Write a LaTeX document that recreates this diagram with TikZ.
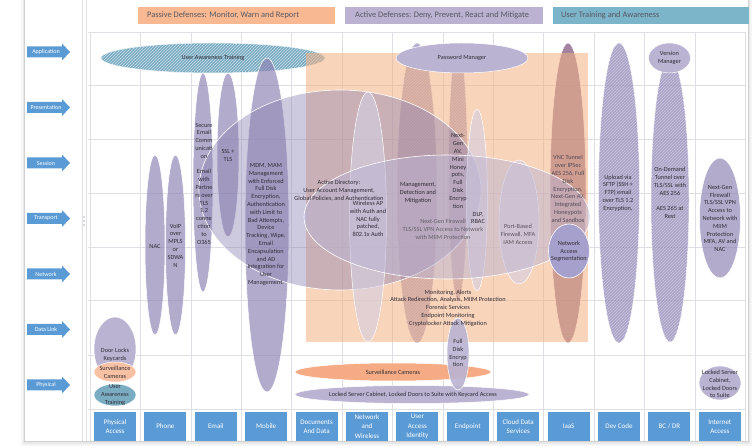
\documentclass[tikz,border=0pt]{standalone}
\usepackage{fontspec}
\setmainfont{Carlito}
\usetikzlibrary{patterns}
\definecolor{lavD}{RGB}{138,127,177}
\definecolor{lavL}{RGB}{186,179,210}
\definecolor{lavP}{RGB}{212,206,228}
\definecolor{lavM}{RGB}{142,100,138}
\definecolor{lavS}{RGB}{166,160,204}
\definecolor{peach}{RGB}{244,177,131}
\definecolor{orng}{RGB}{245,172,132}
\definecolor{tealC}{RGB}{122,172,194}
\definecolor{blueC}{RGB}{91,155,213}
\definecolor{gridC}{RGB}{222,222,228}
\definecolor{txt}{RGB}{50,45,56}
\definecolor{hdrtxt}{RGB}{88,88,98}
\definecolor{hdrP}{RGB}{248,184,146}
\definecolor{hdrA}{RGB}{186,178,208}
\definecolor{hdrT}{RGB}{124,180,202}

\tikzset{
  tall/.style={fill=lavD, fill opacity=0.65, draw=white, line width=0.5pt},
  hatched/.style={fill=lavD, fill opacity=0.7, draw=white, line width=0.5pt,
    postaction={pattern=north east lines, pattern color=white!55!lavD}},
  deep/.style={fill=lavM, fill opacity=0.8, draw=white, line width=0.5pt},
  wide/.style={fill=lavD, fill opacity=0.42, draw=white, line width=0.6pt},
  pale/.style={fill=lavP, fill opacity=0.6, draw=white, line width=0.5pt},
  solidlav/.style={fill=lavL, draw=white, line width=0.5pt},
  lbl/.style={font=\fontsize{6.3}{7.8}\selectfont, text=txt, align=center, inner sep=0pt},
  hdrbox/.style={minimum height=17pt, inner sep=0pt, anchor=north west},
  hdr/.style={font=\fontsize{8.4}{9.6}\selectfont, text=hdrtxt, anchor=west, inner sep=0pt},
  layertxt/.style={font=\fontsize{6}{6.5}\selectfont, text=white, inner sep=0pt},
  colbox/.style={fill=blueC, minimum width=42pt, minimum height=29pt, inner sep=0pt,
    align=center, text=white, font=\fontsize{7}{9.3}\selectfont},
}

\begin{document}
\begin{tikzpicture}[x=1pt, y=-1pt]
\useasboundingbox (0,0) rectangle (756,446);
% sheet and its shadow
\fill[white] (0,0) rectangle (756,446);
\fill[black!4] (21,0) rectangle (752,446);
\fill[black!9] (23,0) rectangle (750,444);
\fill[black!18] (24,0) rectangle (749,442.5);
\fill[white] (25,0) rectangle (748,441);

% label column rules
\draw[gridC, line width=0.6pt] (82,0) -- (82,441);
\draw[gridC, line width=0.6pt] (86,0) -- (86,441);
\foreach \d in {217,221,225} \fill[black!60] (84,\d) circle (0.6pt);

% grid
\foreach \r in {32,85,139,193,247,300,355,409}
  \draw[gridC, line width=0.6pt] (88,\r) -- (745,\r);
\foreach \c in {0,...,13}
  \draw[gridC, line width=0.6pt] ({90+50.4*\c},32) -- ({90+50.4*\c},441);

% headers
\node[hdrbox, fill=hdrP, minimum width=197pt] (hp) at (138,7) {};
\node[hdr] (hpt) at (147,15.5) {Passive Defenses: Monitor, Warn and Report};
\node[hdrbox, fill=hdrA, minimum width=198pt] (ha) at (345,7) {};
\node[hdr] (hat) at (355,15.5) {Active Defenses: Deny, Prevent, React and Mitigate};
\node[hdrbox, fill=hdrT, minimum width=196pt] (ht) at (553,7) {};
\node[hdr] (htt) at (561,15.5) {User Training and Awareness};

% awareness band
\path[fill=tealC, draw=white, line width=0.5pt, postaction={pattern=north east lines, pattern color=white!60!tealC}]
  (213,58) ellipse [x radius=112pt, y radius=15pt];

% tall controls outside the shaded block
\path[tall] (203,182.5) ellipse [x radius=10pt, y radius=109.5pt];
\path[tall] (228,155) ellipse [x radius=11pt, y radius=82pt];
\path[tall] (267,225) ellipse [x radius=22pt, y radius=167pt];
\path[tall] (155,245) ellipse [x radius=10pt, y radius=90pt];
\path[tall] (175.5,245) ellipse [x radius=10pt, y radius=90pt];
\path[hatched] (619,193) ellipse [x radius=20.5pt, y radius=150pt];
\path[hatched] (670,200) ellipse [x radius=19pt, y radius=142pt];
\path[tall] (720,218) ellipse [x radius=20.5pt, y radius=60pt];

% controls under the shaded block
\path[hatched] (417,193) ellipse [x radius=20pt, y radius=150pt];
\path[hatched] (458,172) ellipse [x radius=9.5pt, y radius=128pt];
\path[deep] (568,193) ellipse [x radius=18pt, y radius=150pt];

% shaded block
\fill[peach, opacity=0.55] (306,53) rectangle (588,342);

% broad controls
\path[wide] (340,190) ellipse [x radius=141pt, y radius=100pt];
\path[pale] (368,217) ellipse [x radius=18.5pt, y radius=125pt];
\path[pale] (477,200) ellipse [x radius=10.5pt, y radius=91pt];
\path[pale] (519,222) ellipse [x radius=20pt, y radius=62pt];
\path[fill=lavL, fill opacity=0.5, draw=white, line width=0.6pt] (447,217) ellipse [x radius=143pt, y radius=62pt];

% top and side bubbles
\path[solidlav] (462,58) ellipse [x radius=66pt, y radius=15pt];
\path[solidlav] (669.5,58) ellipse [x radius=21pt, y radius=15pt];
\path[fill=lavS, draw=white, line width=0.6pt] (569,251) ellipse [x radius=20.5pt, y radius=27pt];

% physical layer
\path[solidlav] (115,349) ellipse [x radius=21pt, y radius=32pt];
\path[fill=orng!75!white, draw=white, line width=0.5pt] (115,372) ellipse [x radius=21pt, y radius=10pt];
\path[fill=tealC, draw=white, line width=0.5pt] (115,395) ellipse [x radius=21pt, y radius=11pt];
\path[fill=orng, draw=white, line width=0.5pt] (393,372) ellipse [x radius=98pt, y radius=9pt];
\path[solidlav] (412,394.5) ellipse [x radius=117pt, y radius=9pt];
\path[fill=lavL, fill opacity=0.9, draw=white, line width=0.5pt] (458,354) ellipse [x radius=11pt, y radius=36pt];
\path[solidlav] (720,383) ellipse [x radius=21pt, y radius=17pt];

% texts
\node[lbl] (tuat) at (213,58) {User Awareness Training};
\node[lbl] (tpm) at (462,58) {Password Manager};
\node[lbl] (tvm) at (669.5,58) {Version\\Manager};
\node[lbl] (tmail) at (204,183.5) {Secure\\Email\\Comm\\unicati\\on\\[7.8pt]Email\\with\\Partne\\rs over\\TLS\\1.2\\conne\\ction\\to\\O365};
\node[lbl] (tssl) at (228,155.5) {SSL +\\TLS};
\node[lbl] (tmob) at (266,224.5) {MDM, MAM\\Management\\with Enforced\\Full Disk\\Encryption,\\Authentication\\with Limit to\\Bad Attempts,\\Device\\Tracking, Wipe,\\Email\\Encapsulation\\and AD\\Integration for\\User\\Management.};
\node[lbl] (tnac) at (155,246) {NAC};
\node[lbl] (tvoip) at (175.5,245.5) {VoIP\\over\\MPLS\\or\\SDWA\\N};
\node[lbl] (tad) at (339,190.5) {Active Directory:\\User Account Management,\\Global Policies, and Authentication};
\node[lbl] (twap) at (368,219) {Wireless AP\\with Auth and\\NAC fully\\patched,\\802.1x Auth};
\node[lbl] (tmdm) at (418,193) {Management,\\Detection and\\Mitigation};
\node[lbl] (tngav) at (458,171) {Next-\\Gen\\AV,\\Mini\\Honey\\pots,\\Full\\Disk\\Encryp\\tion};
\node[lbl] (tdlp) at (478,218) {DLP,\\RBAC};
\node[lbl, text=txt!75] (tngfw) at (443,229.5) {Next-Gen Firewall\\TLS/SSL VPN Access to Network\\with MIIM Protection};
\node[lbl, text=txt!80] (tport) at (518,234.5) {Port-Based\\Firewall, MFA\\IAM Access};
\node[lbl, text=txt!85] (tvnc) at (568,189) {VNC Tunnel\\over IPSec\\AES 256, Full\\Disk\\Encryption,\\Next-Gen AV,\\Integrated\\Honeypots\\and Sandbox};
\node[lbl] (tnas) at (569,251.5) {Network\\Access\\Segmentation};
\node[lbl] (tsftp) at (618,193) {Upload via\\SFTP (SSH +\\FTP) email\\over TLS 1.2\\Encryption,};
\node[lbl] (tbcdr) at (670,193) {On-Demand\\Tunnel over\\TLS/SSL with\\AES 256\\[7.8pt]AES 265 at\\Rest};
\node[lbl] (tinet) at (720,218.5) {Next-Gen\\Firewall\\TLS/SSL VPN\\Access to\\Network with\\MIIM\\Protection\\MFA, AV and\\NAC};
\node[lbl] (tmon) at (448,308) {Monitoring, Alerts\\Attack Redirection, Analysis, MIIM Protection\\Forensic Services\\Endpoint Monitoring\\Cryptolocker Attack Mitigation};
\node[lbl] (tdoor) at (115,355) {Door Locks\\Keycards};
\node[lbl] (tcam) at (115,372) {Surveillance\\Cameras};
\node[lbl] (tuat2) at (115,395) {User\\Awareness\\Training};
\node[lbl] (tcamw) at (393,372) {Surveillance Cameras};
\node[lbl] (tlockw) at (413,394.5) {Locked Server Cabinet, Locked Doors to Suite with Keycard Access};
\node[lbl] (tfde) at (458,353) {Full\\Disk\\Encryp\\tion};
\node[lbl] (tlock) at (720,384) {Locked Server\\Cabinet,\\Locked Doors\\to Suite};

% OSI layer arrows
\foreach \name [count=\k from 0] in {Application,Presentation,Session,Transport,Network,Data Link,Physical}{
  \pgfmathsetmacro{\yy}{52+55.5*\k}
  \fill[blueC] (27,\yy-5.5) -- (62,\yy-5.5) -- (62,\yy-8.5) -- (70,\yy) -- (62,\yy+8.5) -- (62,\yy+5.5) -- (27,\yy+5.5) -- cycle;
  \node[layertxt] (layer\k) at (46,\yy) {\name};
}

% column headings
\foreach \t [count=\i from 0] in {{Physical\\Access},Phone,Email,Mobile,{Documents\\And Data},{Network\\and\\Wireless},{User\\Access\\Identity},Endpoint,{Cloud Data\\Services},IaaS,Dev Code,BC / DR,{Internet\\Access}}
  \node[colbox] (col\i) at ({115+50.4*\i},426.5) {\t};
\end{tikzpicture}
\end{document}
